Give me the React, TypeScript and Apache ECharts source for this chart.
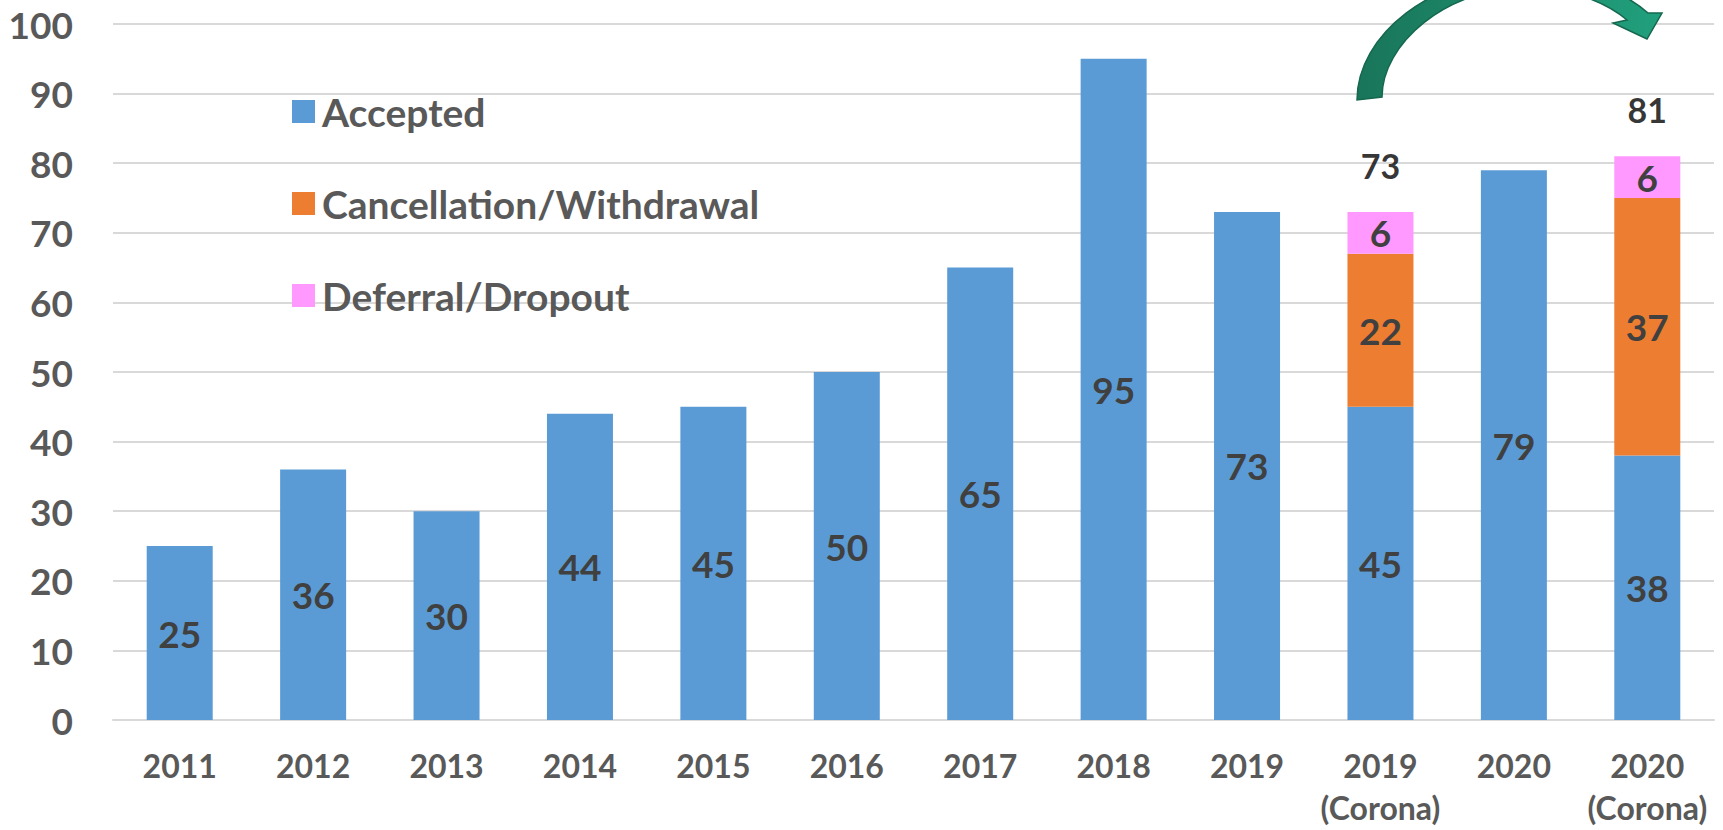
import React, { useEffect, useRef } from "react";
import * as echarts from "echarts";

const categories = [
  "2011", "2012", "2013", "2014", "2015", "2016", "2017", "2018", "2019",
  "2019\n(Corona)", "2020", "2020\n(Corona)",
];
const accepted = [25, 36, 30, 44, 45, 50, 65, 95, 73, 45, 79, 38];
const cancellation = [null, null, null, null, null, null, null, null, null, 22, null, 37];
const deferral = [null, null, null, null, null, null, null, null, null, 6, null, 6];
const totals = [null, null, null, null, null, null, null, null, null, 73, null, 81];
const seriesNames = ["Accepted", "Cancellation/Withdrawal", "Deferral/Dropout"];
const yMin = 0;
const yMax = 100;
const yInterval = 10;

const ARROW_D =
  "M 1357 100 C 1357 35 1432 -25 1525 -25 C 1575 -25 1620 -12 1648 13 " +
  "L 1662 13 L 1647 39 L 1613 23 L 1627 20 " +
  "C 1608 4 1575 -12 1525 -12 C 1446 -12 1382 44 1382 97 Z";

echarts.graphic.registerShape("curvedArrow", echarts.graphic.extendPath(ARROW_D, {}));

const FONT = "Lato";

export default function App() {
  const ref = useRef<HTMLDivElement>(null);
  useEffect(() => {
    if (!ref.current) return;
    const chart = echarts.init(ref.current, null, { renderer: "svg" });
    const dataLabel = {
      show: true,
      position: "inside",
      fontFamily: FONT,
      fontWeight: "bold",
      fontSize: 37,
      color: "#404040",
      formatter: (p: any) => (p.value == null ? "" : String(p.value)),
    };
    chart.setOption({
      animation: false,
      backgroundColor: "#ffffff",
      grid: { left: 113, right: 9, top: 24, bottom: 110, containLabel: false },
      legend: {
        orient: "vertical",
        left: 287,
        top: 87,
        itemWidth: 23,
        itemHeight: 23,
        itemGap: 53,
        icon: "rect",
        data: seriesNames,
        selectedMode: false,
        textStyle: {
          fontFamily: FONT,
          fontWeight: "bold",
          fontSize: 39,
          lineHeight: 23,
          color: "#595959",
          padding: [0, 0, 0, 2],
        },
      },
      xAxis: {
        type: "category",
        data: categories,
        axisTick: { show: false },
        axisLine: { show: true, lineStyle: { color: "#d9d9d9", width: 2 } },
        axisLabel: {
          interval: 0,
          margin: 24,
          fontFamily: FONT,
          fontWeight: "bold",
          fontSize: 32,
          lineHeight: 42,
          color: "#595959",
        },
      },
      yAxis: {
        type: "value",
        min: yMin,
        max: yMax,
        interval: yInterval,
        axisLine: { show: false },
        axisTick: { show: false },
        splitLine: { lineStyle: { color: "#d9d9d9", width: 2 } },
        axisLabel: {
          margin: 40,
          fontFamily: FONT,
          fontWeight: "bold",
          fontSize: 37,
          color: "#595959",
        },
      },
      series: [
        {
          name: seriesNames[0],
          type: "bar",
          stack: "total",
          barWidth: 66,
          data: accepted,
          itemStyle: { color: "#5b9bd5" },
          label: dataLabel,
        },
        {
          name: seriesNames[1],
          type: "bar",
          stack: "total",
          barWidth: 66,
          data: cancellation,
          itemStyle: { color: "#ed7d31" },
          label: dataLabel,
        },
        {
          name: seriesNames[2],
          type: "bar",
          stack: "total",
          barWidth: 66,
          data: deferral,
          itemStyle: { color: "#ff99ff" },
          label: dataLabel,
        },
        {
          name: "Total",
          type: "scatter",
          data: totals,
          symbolSize: 1,
          itemStyle: { color: "rgba(0,0,0,0)" },
          silent: true,
          z: 10,
          label: {
            show: true,
            position: "top",
            distance: 29,
            fontFamily: FONT,
            fontWeight: "bold",
            fontSize: 34,
            color: "#000000",
            formatter: (p: any) => (p.value == null ? "" : String(p.value)),
          },
        },
      ],
      graphic: [
        {
          type: "curvedArrow",
          x: 0,
          y: 0,
          z: 100,
          shape: {},
          style: {
            fill: new echarts.graphic.LinearGradient(0, 0, 1, 0, [
              { offset: 0, color: "#197559" },
              { offset: 1, color: "#21a07d" },
            ]),
            stroke: "#15684e",
            lineWidth: 1.5,
          },
        },
      ],
    });
    return () => chart.dispose();
  }, []);
  return (
    <div
      ref={ref}
      style={{ position: "fixed", left: 0, top: 0, width: 1723, height: 830, background: "#fff" }}
    />
  );
}
